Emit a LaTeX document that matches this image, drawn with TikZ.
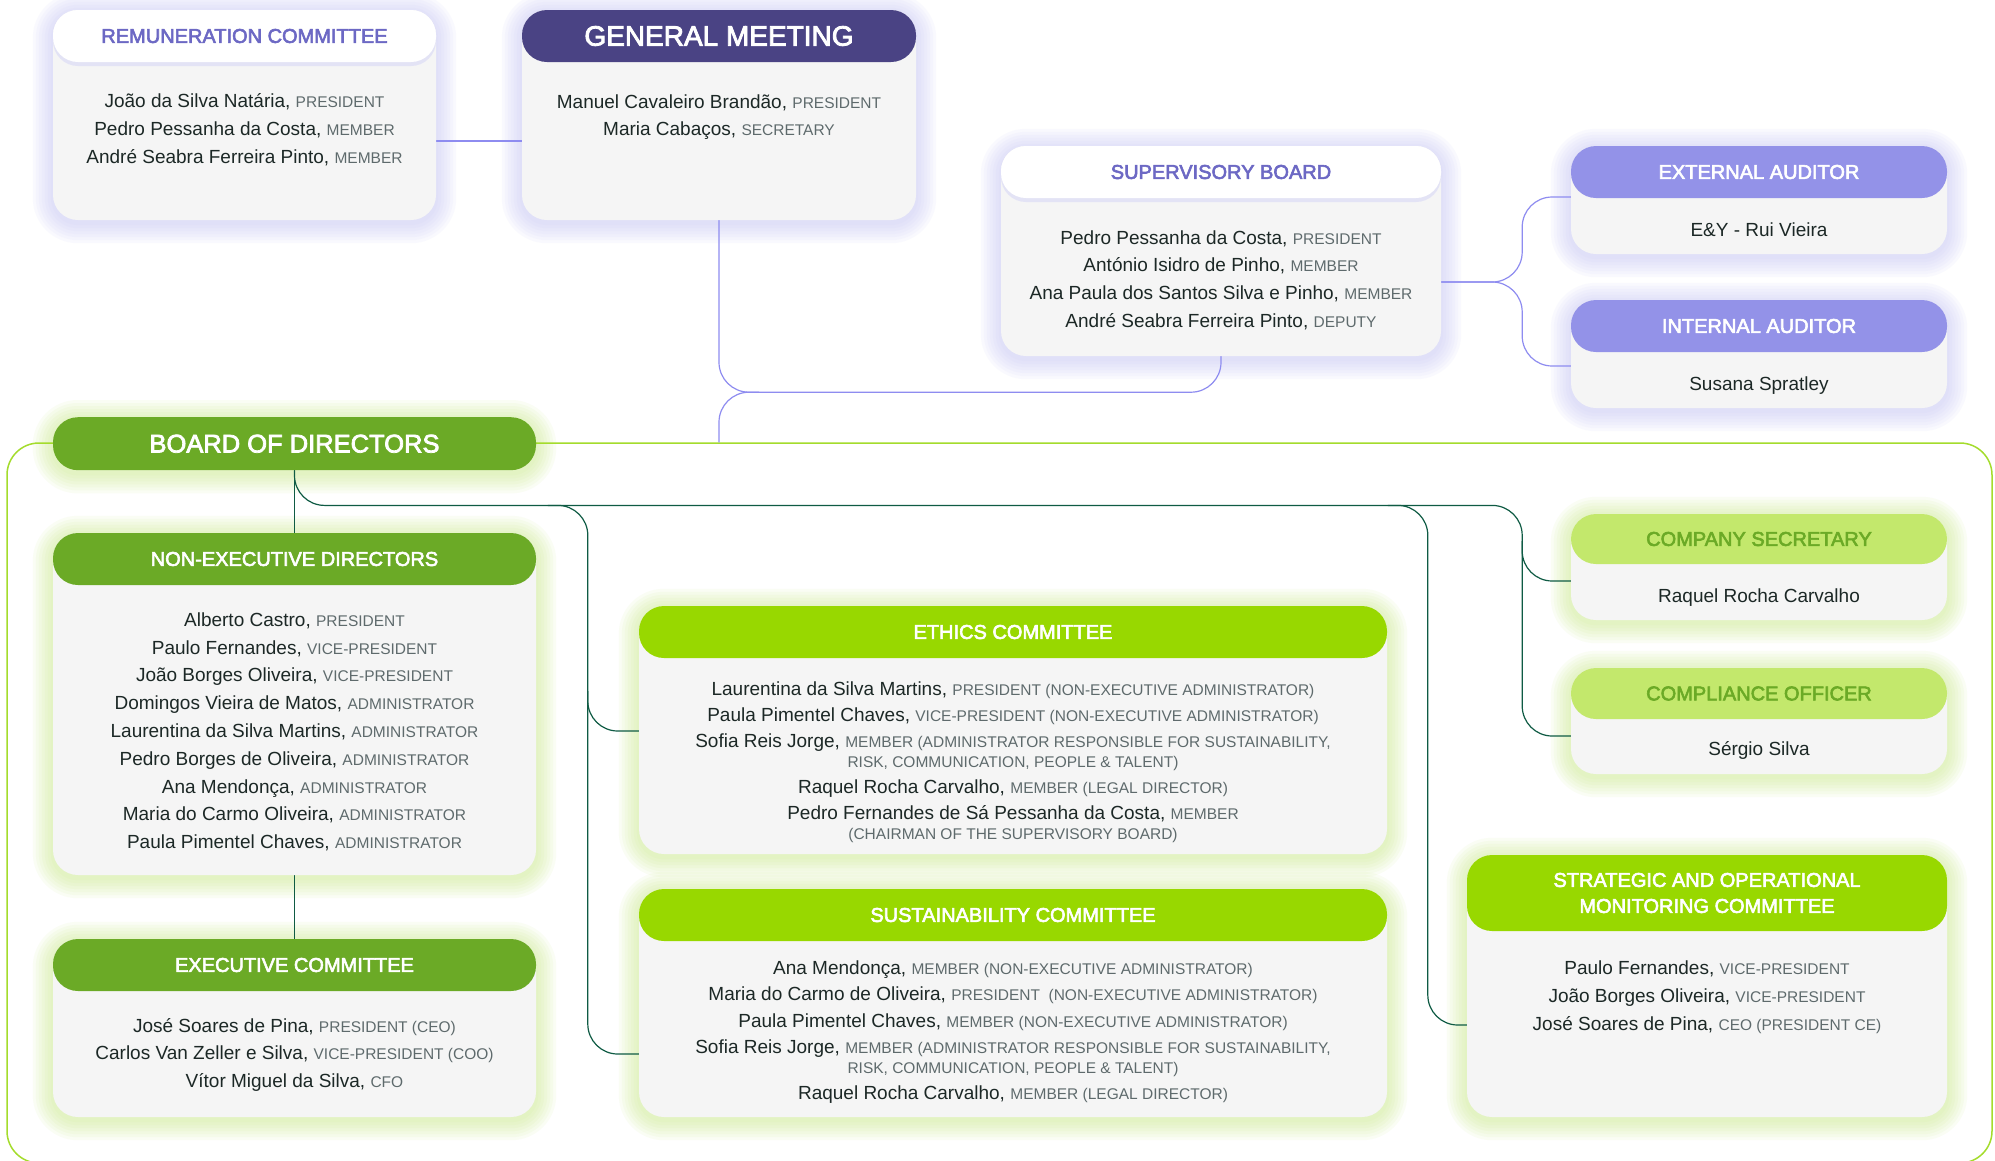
\documentclass[tikz,border=0pt]{standalone}
\usepackage{fontspec}
\setmainfont{Liberation Sans}
\newfontfamily\headfont[FakeBold=3]{Liberation Sans}
\usetikzlibrary{calc,positioning,shadows}

\definecolor{gmpurple}{HTML}{4A4384}
\definecolor{audpurple}{HTML}{9392E8}
\definecolor{headpurple}{HTML}{6C68C4}
\definecolor{linepurple}{HTML}{8E8CF0}
\definecolor{glowpurple}{HTML}{C4C2F5}
\definecolor{darkgreen}{HTML}{6BAA26}
\definecolor{brightgreen}{HTML}{98D800}
\definecolor{palegreen}{HTML}{C3E86C}
\definecolor{glowgreen}{HTML}{C8EA84}
\definecolor{linegreen}{HTML}{0F5B44}
\definecolor{framegreen}{HTML}{A4DC2C}
\definecolor{boxfill}{HTML}{F5F5F5}
\definecolor{nametext}{HTML}{1C2826}
\definecolor{roletext}{HTML}{5E6A6C}

\pgfdeclarelayer{glowlayer}
\pgfdeclarelayer{linelayer}
\pgfsetlayers{glowlayer,linelayer,main}

\newcommand{\role}[1]{{\fontsize{15.5}{15.5}\selectfont\color{roletext}#1}}
\newcommand{\fst}{\rule{0pt}{18pt}}
\newcommand{\glow}[2]{%
  \begin{pgfonlayer}{glowlayer}
    \foreach \gl in {2,5,...,20}{
      \pgfmathsetmacro{\gr}{25+\gl}
      \fill[#2, opacity=0.085, rounded corners=\gr pt]
        ($(#1.south west)+(-\gl,\gl+3)$) rectangle ($(#1.north east)+(\gl,-\gl+3)$);
    }
  \end{pgfonlayer}}

\begin{document}
\begin{tikzpicture}[x=1pt, y=-1pt,
    box/.style={fill=boxfill, rounded corners=25pt, inner sep=0pt},
    head/.style={anchor=north, rounded corners=25pt, inner sep=0pt, minimum height=52pt,
      align=center, font=\headfont\fontsize{20}{26}\selectfont},
    names/.style={anchor=north, align=center, inner sep=0pt, text=nametext,
      font=\fontsize{19}{27.8}\selectfont},
    pline/.style={draw=linepurple, line width=1.2pt, rounded corners=30pt},
    gline/.style={draw=linegreen, line width=1.2pt, rounded corners=30pt},
    wshadow/.style={drop shadow={shadow xshift=0pt, shadow yshift=-4pt, fill=glowpurple, opacity=0.35}}]
  \useasboundingbox (0,0) rectangle (1995,1160);
  \begin{pgfonlayer}{glowlayer}
    \fill[white] (0,0) rectangle (1995,1160);
  \end{pgfonlayer}

  % general meeting and supervision
  \node[box, minimum width=383pt, minimum height=210pt] (rem) at (244.5,115) {};
  \node[head, fill=white, text=headpurple, minimum width=383pt, wshadow] (rem-h) at (rem.north) {REMUNERATION COMMITTEE};
  \node[names, font=\fontsize{19}{28}\selectfont] (rem-t) at (244.5,89) {\fst João da Silva Natária, \role{PRESIDENT}\\
    Pedro Pessanha da Costa, \role{MEMBER}\\ André Seabra Ferreira Pinto, \role{MEMBER}};

  \node[box, minimum width=394pt, minimum height=210pt] (gm) at (719,115) {};
  \node[head, fill=gmpurple, text=white, minimum width=394pt, font=\headfont\fontsize{28}{32}\selectfont] (gm-h) at (gm.north) {GENERAL MEETING};
  \node[names, font=\fontsize{19}{27.5}\selectfont] (gm-t) at (719,90) {\fst Manuel Cavaleiro Brandão, \role{PRESIDENT}\\
    Maria Cabaços, \role{SECRETARY}};

  \node[box, minimum width=440pt, minimum height=210pt] (sb) at (1221,251) {};
  \node[head, fill=white, text=headpurple, minimum width=440pt, wshadow] (sb-h) at (sb.north) {SUPERVISORY BOARD};
  \node[names, font=\fontsize{19}{27.7}\selectfont] (sb-t) at (1221,226) {\fst Pedro Pessanha da Costa, \role{PRESIDENT}\\
    António Isidro de Pinho, \role{MEMBER}\\ Ana Paula dos Santos Silva e Pinho, \role{MEMBER}\\
    André Seabra Ferreira Pinto, \role{DEPUTY}};

  \node[box, minimum width=376pt, minimum height=108pt] (ea) at (1759,200) {};
  \node[head, fill=audpurple, text=white, minimum width=376pt] (ea-h) at (ea.north) {EXTERNAL AUDITOR};
  \node[names] (ea-t) at (1759,218) {\fst E\&Y - Rui Vieira};

  \node[box, minimum width=376pt, minimum height=108pt] (ia) at (1759,354) {};
  \node[head, fill=audpurple, text=white, minimum width=376pt] (ia-h) at (ia.north) {INTERNAL AUDITOR};
  \node[names] (ia-t) at (1759,372) {\fst Susana Spratley};

  % board of directors
  \node[head, fill=darkgreen, text=white, minimum width=483pt, minimum height=53pt,
    font=\headfont\fontsize{25.5}{30}\selectfont] (bod) at (294.5,417) {BOARD OF DIRECTORS};

  \node[box, minimum width=483pt, minimum height=342pt] (ned) at (294.5,704) {};
  \node[head, fill=darkgreen, text=white, minimum width=483pt] (ned-h) at (ned.north) {NON-EXECUTIVE DIRECTORS};
  \node[names] (ned-t) at (294.5,608) {\fst Alberto Castro, \role{PRESIDENT}\\
    Paulo Fernandes, \role{VICE-PRESIDENT}\\ João Borges Oliveira, \role{VICE-PRESIDENT}\\
    Domingos Vieira de Matos, \role{ADMINISTRATOR}\\ Laurentina da Silva Martins, \role{ADMINISTRATOR}\\
    Pedro Borges de Oliveira, \role{ADMINISTRATOR}\\ Ana Mendonça, \role{ADMINISTRATOR}\\
    Maria do Carmo Oliveira, \role{ADMINISTRATOR}\\ Paula Pimentel Chaves, \role{ADMINISTRATOR}};

  \node[box, minimum width=483pt, minimum height=178pt] (exec) at (294.5,1028) {};
  \node[head, fill=darkgreen, text=white, minimum width=483pt] (exec-h) at (exec.north) {EXECUTIVE COMMITTEE};
  \node[names, font=\fontsize{19}{27.5}\selectfont] (exec-t) at (294.5,1014) {\fst José Soares de Pina, \role{PRESIDENT (CEO)}\\
    Carlos Van Zeller e Silva, \role{VICE-PRESIDENT (COO)}\\ Vítor Miguel da Silva, \role{CFO}};

  \node[box, minimum width=748pt, minimum height=248pt] (ethics) at (1013,730) {};
  \node[head, fill=brightgreen, text=white, minimum width=748pt] (ethics-h) at (ethics.north) {ETHICS COMMITTEE};
  \node[names, font=\fontsize{19}{26}\selectfont] (ethics-t) at (1013,677) {\fst Laurentina da Silva Martins, \role{PRESIDENT (NON-EXECUTIVE ADMINISTRATOR)}\\
    Paula Pimentel Chaves, \role{VICE-PRESIDENT (NON-EXECUTIVE ADMINISTRATOR)}\\
    Sofia Reis Jorge, \role{MEMBER (ADMINISTRATOR RESPONSIBLE FOR SUSTAINABILITY,}\\[-6pt]
    \role{RISK, COMMUNICATION, PEOPLE \& TALENT)}\\
    Raquel Rocha Carvalho, \role{MEMBER (LEGAL DIRECTOR)}\\
    Pedro Fernandes de Sá Pessanha da Costa, \role{MEMBER}\\[-6pt]
    \role{(CHAIRMAN OF THE SUPERVISORY BOARD)}};

  \node[box, minimum width=748pt, minimum height=228pt] (sust) at (1013,1003) {};
  \node[head, fill=brightgreen, text=white, minimum width=748pt] (sust-h) at (sust.north) {SUSTAINABILITY COMMITTEE};
  \node[names, font=\fontsize{19}{26.4}\selectfont] (sust-t) at (1013,956) {\fst Ana Mendonça, \role{MEMBER (NON-EXECUTIVE ADMINISTRATOR)}\\
    Maria do Carmo de Oliveira, \role{PRESIDENT \ (NON-EXECUTIVE ADMINISTRATOR)}\\
    Paula Pimentel Chaves, \role{MEMBER (NON-EXECUTIVE ADMINISTRATOR)}\\
    Sofia Reis Jorge, \role{MEMBER (ADMINISTRATOR RESPONSIBLE FOR SUSTAINABILITY,}\\[-6.4pt]
    \role{RISK, COMMUNICATION, PEOPLE \& TALENT)}\\
    Raquel Rocha Carvalho, \role{MEMBER (LEGAL DIRECTOR)}};

  \node[box, minimum width=376pt, minimum height=106pt] (cs) at (1759,567) {};
  \node[head, fill=palegreen, text=darkgreen, minimum width=376pt, minimum height=50pt] (cs-h) at (cs.north) {COMPANY SECRETARY};
  \node[names] (cs-t) at (1759,584) {\fst Raquel Rocha Carvalho};

  \node[box, minimum width=376pt, minimum height=106pt] (co) at (1759,721) {};
  \node[head, fill=palegreen, text=darkgreen, minimum width=376pt, minimum height=51pt] (co-h) at (co.north) {COMPLIANCE OFFICER};
  \node[names] (co-t) at (1759,737) {\fst Sérgio Silva};

  \node[box, minimum width=480pt, minimum height=262pt] (somc) at (1707,986) {};
  \node[head, fill=brightgreen, text=white, minimum width=480pt, minimum height=76pt] (somc-h) at (somc.north) {STRATEGIC AND OPERATIONAL\\ MONITORING COMMITTEE};
  \node[names, font=\fontsize{19}{28}\selectfont] (somc-t) at (1707,956) {\fst Paulo Fernandes, \role{VICE-PRESIDENT}\\
    João Borges Oliveira, \role{VICE-PRESIDENT}\\ José Soares de Pina, \role{CEO (PRESIDENT CE)}};

  % glows
  \foreach \b in {rem,gm,sb,ea,ia} {\glow{\b}{glowpurple}}
  \foreach \b in {bod,ned,exec,ethics,sust,cs,co,somc} {\glow{\b}{glowgreen}}

  \begin{pgfonlayer}{linelayer}
    \node[draw=framegreen, line width=1.5pt, rounded corners=32pt, minimum width=1985pt,
      minimum height=720pt, inner sep=0pt] (frame) at (999.5,803) {};
  \end{pgfonlayer}

  \coordinate (sb-drop) at ($(sb.south)+(0,36)$);
  \coordinate (gm-link) at (gm.south |- frame.north);
  \coordinate (sb-out) at ($(sb.east)+(0,31)$);
  \coordinate (audit-bus) at ($(sb-out)+(81,0)$);
  \coordinate (ea-in) at ($(ea.west)+(0,-3)$);
  \coordinate (ia-in) at ($(ia.west)+(0,12)$);
  \coordinate (hub) at ($(bod.south -| audit-bus)+(0,35)$);
  \coordinate (bus1) at ($(hub -| ethics.west)+(-51,0)$);
  \coordinate (bus2) at ($(hub -| somc.west)+(-39,0)$);
  \coordinate (ethics-in) at ($(ethics.west)+(0,1)$);
  \coordinate (sust-in) at ($(sust.west)+(0,51)$);
  \coordinate (somc-in) at ($(somc.west)+(0,39)$);
  \coordinate (cs-in) at ($(cs.west)+(0,14)$);
  \coordinate (co-in) at ($(co.west)+(0,15)$);

  \begin{pgfonlayer}{linelayer}
    \draw[pline] ($(rem.east)+(0,26)$) -- ($(gm.west)+(0,26)$);
    \draw[pline] (gm.south) |- (sb-drop) -- (sb.south);
    \draw[pline] ($(gm.south |- sb-drop)+(40,0)$) -| (gm-link);
    \draw[pline] (sb-out) -- (audit-bus) |- (ea-in);
    \draw[pline] (sb-out) -- (audit-bus) |- (ia-in);
    % board branches
    \draw[gline] (bod.south) -- (ned.north);
    \draw[gline] (ned.south) -- (exec.north);
    \draw[gline] (bod.south) |- (hub) |- (co-in);
    \draw[gline] ($(hub |- cs-in)+(0,-40)$) |- (cs-in);
    \draw[gline] ($(bus1)+(-40,0)$) -- (bus1) |- (sust-in);
    \draw[gline] ($(bus1 |- ethics-in)+(0,-40)$) |- (ethics-in);
    \draw[gline] ($(bus2)+(-40,0)$) -- (bus2) |- (somc-in);
  \end{pgfonlayer}
\end{tikzpicture}
\end{document}
